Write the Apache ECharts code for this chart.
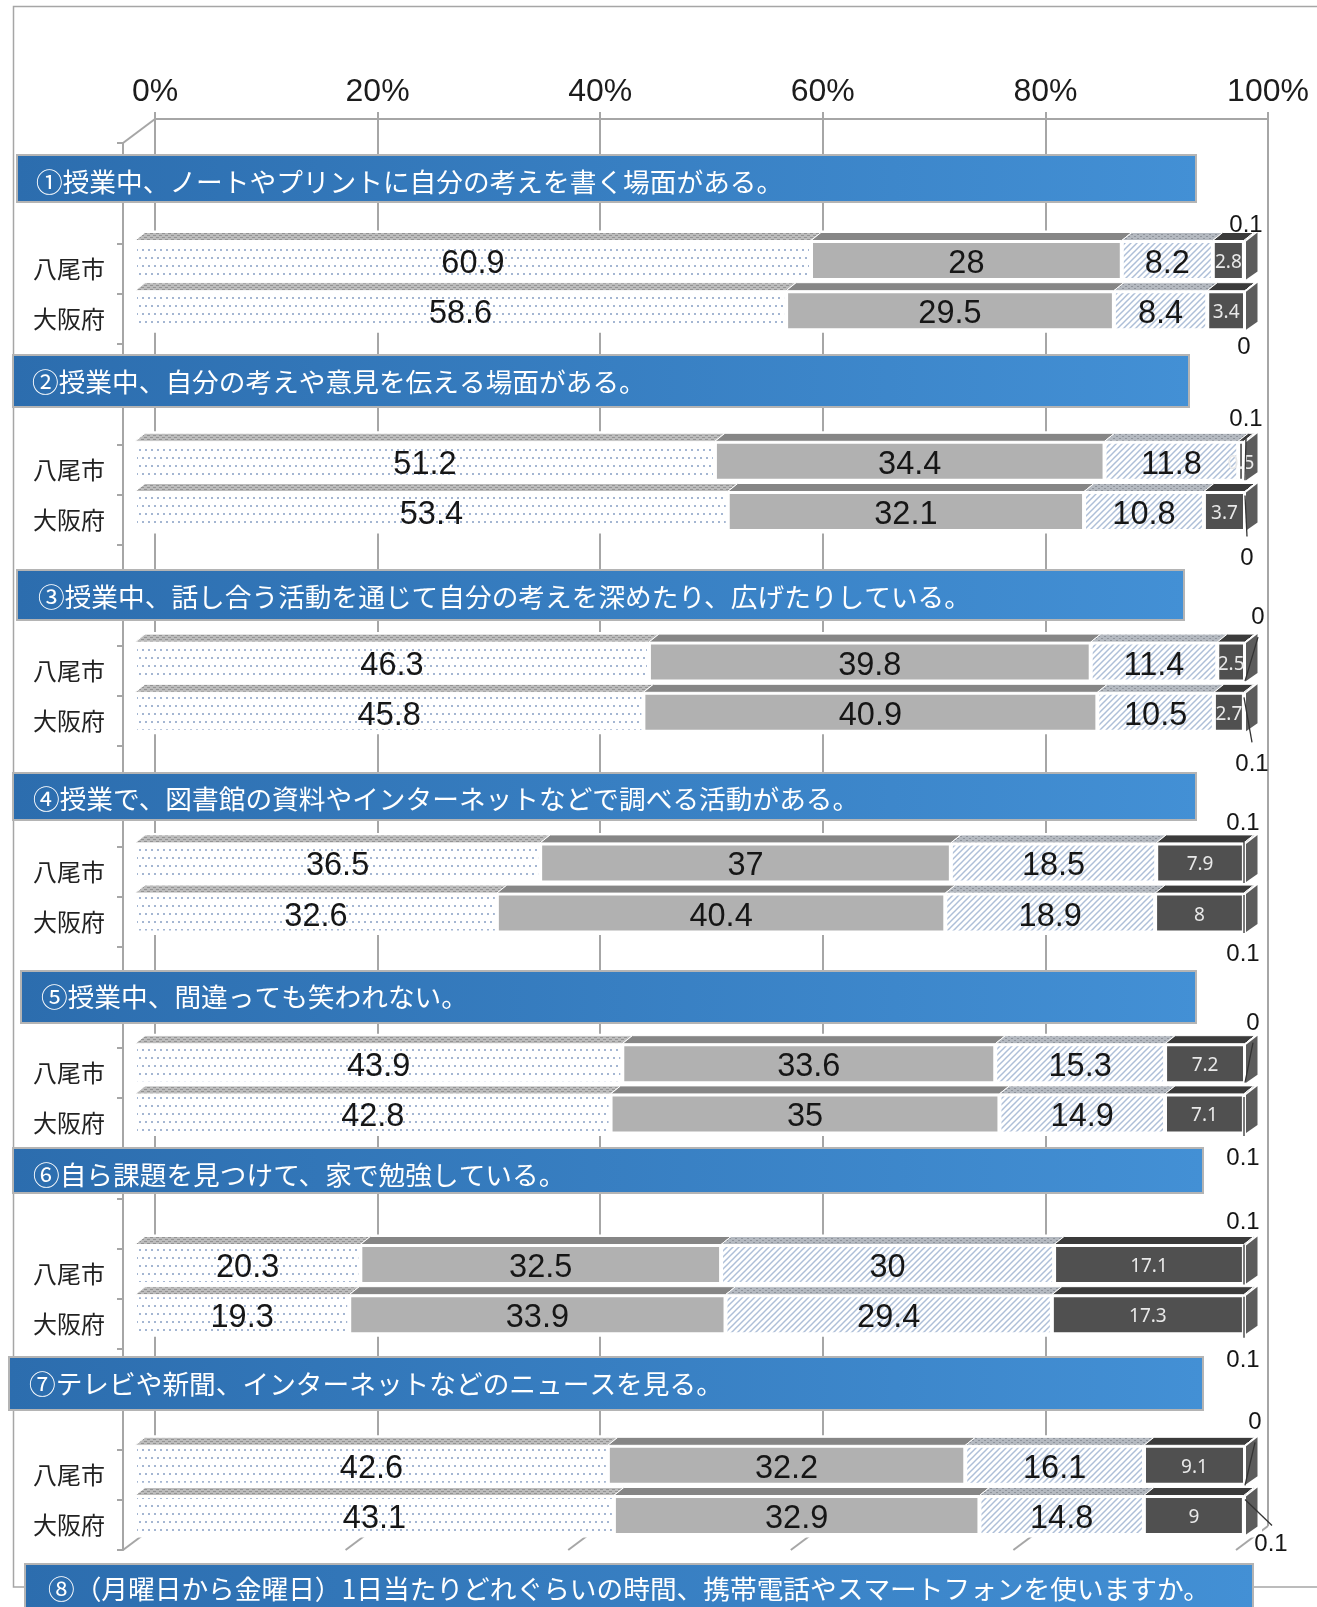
<!DOCTYPE html>
<html><head><meta charset="utf-8">
<style>html,body{margin:0;padding:0;background:#fff;overflow:hidden}#c{width:1317px;height:1607px}</style>
<script src="https://cdn.jsdelivr.net/npm/echarts@6/dist/echarts.min.js"></script>
</head><body><div id="c"></div>
<script>
// ---- data ----
const questions = [
 '①授業中、ノートやプリントに自分の考えを書く場面がある。',
 '②授業中、自分の考えや意見を伝える場面がある。',
 '③授業中、話し合う活動を通じて自分の考えを深めたり、広げたりしている。',
 '④授業で、図書館の資料やインターネットなどで調べる活動がある。',
 '⑤授業中、間違っても笑われない。',
 '⑥自ら課題を見つけて、家で勉強している。',
 '⑦テレビや新聞、インターネットなどのニュースを見る。',
 '⑧（月曜日から金曜日）1日当たりどれぐらいの時間、携帯電話やスマートフォンを使いますか。'
];
const places = ['八尾市','大阪府'];
const tickLabels = ['0%','20%','40%','60%','80%','100%'];
const tickValues = [0,20,40,60,80,100];
// one value per bar, top to bottom (八尾市, 大阪府 for each question)
const answerA = [60.9,58.6, 51.2,53.4, 46.3,45.8, 36.5,32.6, 43.9,42.8, 20.3,19.3, 42.6,43.1];
const answerB = [28,29.5, 34.4,32.1, 39.8,40.9, 37,40.4, 33.6,35, 32.5,33.9, 32.2,32.9];
const answerC = [8.2,8.4, 11.8,10.8, 11.4,10.5, 18.5,18.9, 15.3,14.9, 30,29.4, 16.1,14.8];
const answerD = [2.8,3.4, 0.5,3.7, 2.5,2.7, 7.9,8, 7.2,7.1, 17.1,17.3, 9.1,9];
const noAnswer = [0.1,0, 0.1,0, 0,0.1, 0.1,0.1, 0,0.1, 0.1,0.1, 0,0.1];

// ---- layout (pixels, not data) ----
const BANNERS = [[17,155,1179,47,36,182],[13,355,1176,52,32,382],[17,570,1167,50,38,597],[13,773,1183,47,33,799],
 [21,971,1175,52,41,997],[13,1148,1190,45,33,1175],[9,1357,1194,53,29,1384],[25,1564,1228,50,48,1589]];
// label dx,dy then leader x1,y1,x2,y2 relative to right end of each bar
const LEADERS = [[1,-35],[-1,37],[1,-42,1,-24,0,19],[2,47,0,-16,2,25],[13,-45,13,-25,0,19],[7,52,-1,-15,7,30],
 [-2,-40,-1,-21,-1,20],[-2,41,-1,-18,-1,20],[8,-40,8,-21,0,19],[-2,44,-1,-17,-1,22],[-2,-42,-1,-20,-1,20],
 [-2,46,-1,-18,-1,23],[10,-43,10,-23,0,20],[26,29,0,-16,27,10]];
const DX=10, DY=8, HALF=19, WALLX=32, WALLY=24;
const NUM='"Liberation Sans"', CJK='"Noto Sans CJK JP"';

function tile(w,h,bg,draw){const c=document.createElement('canvas');c.width=w;c.height=h;const g=c.getContext('2d');
 g.fillStyle=bg;g.fillRect(0,0,w,h);draw(g);return {image:c,repeat:'repeat'};}
const dotFill=tile(12,16,'#ffffff',g=>{g.fillStyle='#a4b6d2';[[1,1],[7,1],[4,9],[10,9]].forEach(p=>g.fillRect(p[0],p[1],2,2));});
const hatchFill=tile(6,6,'#ffffff',g=>{g.strokeStyle='#aebfd8';g.lineWidth=1.5;
 [[-1,7,7,-1],[-7,7,7,-7],[-1,13,13,-1]].forEach(p=>{g.beginPath();g.moveTo(p[0],p[1]);g.lineTo(p[2],p[3]);g.stroke();});});
const dotTop=tile(6,4,'#bcbcbc',g=>{g.fillStyle='#939393';g.fillRect(0,1,3,1);g.fillRect(3,3,3,1);});
const hatchTop=tile(6,4,'#b4b9c0',g=>{g.fillStyle='#8e939b';g.fillRect(0,0,2,1);g.fillRect(3,2,2,1);});
const FRONT=[dotFill,'#b1b1b1',hatchFill,'#505050','#ffffff'];
const TOPS=[dotTop,'#868686',hatchTop,'#3b3b3b','#3b3b3b'];

// ---- rows ----
const rowsPerQ=4, nQ=7, nRows=nQ*rowsPerQ;
const rowOf=i=>Math.floor(i/2)*rowsPerQ+2+i%2;
const cols=[answerA,answerB,answerC,answerD,noAnswer];
const names=['当てはまる','どちらかといえば当てはまる','どちらかといえば当てはまらない','当てはまらない','無回答'];
const total=answerA.map((_,i)=>cols.reduce((s,c)=>s+c[i],0));
const catLabels=new Array(nRows).fill(''); answerA.forEach((_,i)=>catLabels[rowOf(i)]=places[i%2]);

const barSeries=cols.map((col,k)=>{
 const d=new Array(nRows).fill(null);
 col.forEach((v,i)=>{d[rowOf(i)]={value:v/total[i]*100,raw:v};});
 return {type:'bar',name:names[k],stack:'s',xAxisIndex:2,yAxisIndex:2,barWidth:39,z:3,data:d,
  itemStyle:{color:FRONT[k],borderColor:'#fff',borderWidth:k<4?2:0},
  label:k<4?{show:true,position:'inside',align:'center',verticalAlign:'middle',
   formatter:p=>p.data?String(p.data.raw):'',
   fontFamily:k===3?'"Noto Sans"':NUM,fontSize:k===3?19:32.5,color:k===3?'#e9e9e9':'#161616',offset:[0,k===3?2:3.5]}:{show:false}};
});

// top and side faces of each bar segment
const faceData=[];
answerA.forEach((_,i)=>{let s=0;cols.forEach((c,k)=>{const v=c[i]/total[i]*100;faceData.push([s,s+v,rowOf(i),k]);s+=v;});});
const faceSeries={type:'custom',xAxisIndex:2,yAxisIndex:2,z:2,silent:true,clip:false,data:faceData,encode:{x:[0,1],y:2},
 renderItem(p,api){const a=api.coord([api.value(0),api.value(2)]),b=api.coord([api.value(1),api.value(2)]),k=api.value(3);
  const t=a[1]-HALF-1,children=[];
  if(k===0)children.push({type:'rect',shape:{x:a[0]-1,y:t-DY-2,width:1128,height:2*HALF+DY+6},style:{fill:'#fff'}});
  children.push({type:'polygon',shape:{points:[[a[0],t],[a[0]+DX,t-DY],[b[0]+DX,t-DY],[b[0],t]]},style:{fill:TOPS[k],stroke:'#fff',lineWidth:1}});
  return {type:'group',children};}};
const sideSeries={type:'custom',xAxisIndex:2,yAxisIndex:2,z:2,silent:true,clip:false,
 data:answerA.map((_,i)=>[100,rowOf(i)]),encode:{x:0,y:1},
 renderItem(p,api){const c=api.coord([api.value(0),api.value(1)]),x=c[0]+1,t=c[1]-HALF,b=c[1]+HALF;
  return {type:'polygon',shape:{points:[[x,t],[x+DX+1.5,t-DY-1],[x+DX+1.5,b-DY],[x,b]]},style:{fill:'#5c5c5c'}};}};
// leader lines + small value labels of the last segment
const leaderSeries={type:'custom',xAxisIndex:2,yAxisIndex:2,z:6,silent:true,clip:false,
 data:noAnswer.map((v,i)=>[100,rowOf(i),v,i]),encode:{x:0,y:1},
 renderItem(p,api){const c=api.coord([api.value(0),api.value(1)]),L=LEADERS[api.value(3)],children=[];
  if(L.length>2)children.push({type:'line',shape:{x1:c[0]+L[2],y1:c[1]+L[3],x2:c[0]+L[4],y2:c[1]+L[5]},style:{stroke:'#333',lineWidth:1.3}});
  children.push({type:'text',style:{x:c[0]+L[0],y:c[1]+L[1],text:String(api.value(2)),fill:'#161616',font:'24px '+NUM,align:'center',verticalAlign:'middle'}});
  return {type:'group',children};}};
// floor lines of the 3D box, from the back wall to the front
const floorSeries={type:'custom',xAxisIndex:1,yAxisIndex:1,z:1,silent:true,clip:false,
 data:tickValues.map(v=>[v,0]),encode:{x:0,y:1},
 renderItem(p,api){const c=api.coord([api.value(0),api.value(1)]);
  const line=(x1,y1,x2,y2)=>({type:'line',shape:{x1,y1,x2,y2},style:{stroke:'#a6a6a6',lineWidth:2}});
  const kids=[line(c[0],c[1],c[0]-WALLX,c[1]+WALLY)];
  if(api.value(0)===0){const t=api.coord([0,1]);kids.push(line(t[0],t[1],t[0]-WALLX,t[1]+WALLY));}
  return {type:'group',children:kids};}};

const graphic=[{type:'rect',z:0,silent:true,shape:{x:13.5,y:6.5,width:1400,height:1580.5},style:{fill:'none',stroke:'#a6a6a6',lineWidth:1.5}}];
questions.forEach((q,i)=>{const b=BANNERS[i];
 graphic.push({type:'rect',z:20,silent:true,shape:{x:b[0],y:b[1],width:b[2],height:b[3]},
  style:{fill:new echarts.graphic.LinearGradient(0,0,1,0,[{offset:0,color:'#2c6dae'},{offset:1,color:'#4390d5'}]),stroke:'#b4b4b4',lineWidth:2}});
 graphic.push({type:'text',z:21,silent:true,style:{x:b[4],y:b[5],text:q,fill:'#fff',font:'26.7px '+CJK,verticalAlign:'middle'}});
});

const hiddenV={type:'value',min:0,max:100,show:false};
const axisGray={lineStyle:{color:'#a6a6a6',width:2}};
const chart=echarts.init(document.getElementById('c'),null,{renderer:'canvas'});
chart.setOption({animation:false,backgroundColor:'#fff',graphic,
 grid:[
  {left:123,top:143,width:1110,height:1407},   // front-left wall with place labels
  {left:155,top:119,width:1113,height:1407},   // back wall
  {left:135,top:135,width:1110,height:1405.6}  // plane of the bars
 ],
 xAxis:[
  {gridIndex:0,...hiddenV},
  {gridIndex:1,type:'value',min:0,max:100,interval:20,position:'top',
   axisLine:{show:true,onZero:false,...axisGray},axisTick:{show:true,length:7,...axisGray},
   splitLine:{show:true,...axisGray},
   axisLabel:{formatter:v=>tickLabels[tickValues.indexOf(v)],fontFamily:NUM,fontSize:32,color:'#1c1c1c',margin:11,showMaxLabel:true,showMinLabel:true}},
  {gridIndex:2,...hiddenV}
 ],
 yAxis:[
  {gridIndex:0,type:'category',inverse:true,data:catLabels,
   axisLine:{show:true,...axisGray},axisTick:{show:true,interval:0,length:6,...axisGray},
   axisLabel:{interval:0,fontFamily:CJK,fontSize:24,color:'#222',margin:18}},
  {gridIndex:1,type:'value',min:0,max:1,show:false},
  {gridIndex:2,type:'category',inverse:true,show:false,data:catLabels.map((_,i)=>i)}
 ],
 series:[floorSeries,faceSeries,sideSeries,...barSeries,leaderSeries]
});
</script></body></html>
